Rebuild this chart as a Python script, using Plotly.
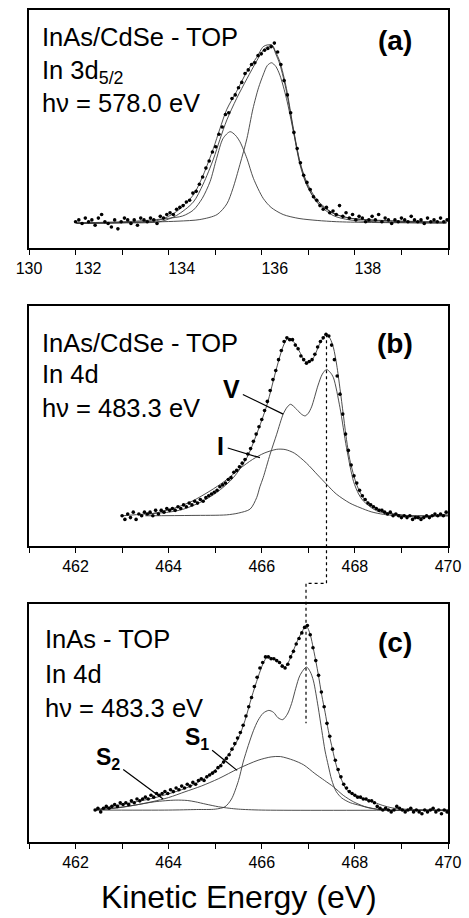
import plotly.graph_objects as go

# ---------------- data ----------------
# Panel (a): In 3d5/2, InAs/CdSe - TOP
A_DOTS_X = [131.00,131.07,131.14,131.21,131.28,131.35,131.42,131.49,131.56,131.63,131.70,131.77,131.84,131.91,131.98,
            132.05,132.12,132.19,132.26,132.33,132.40,132.47,132.54,132.61,132.68,132.75,132.82,132.89,132.96,133.03,
            133.10,133.17,133.24,133.31,133.38,133.45,133.52,133.59,133.66,133.73,133.80,133.87,133.94,134.01,134.08,
            134.15,134.22,134.29,134.36,134.43,134.50,134.57,134.64,134.71,134.78,134.85,134.92,134.99,135.06,135.13,
            135.20,135.27,135.34,135.41,135.48,135.55,135.62,135.69,135.76,135.83,135.90,135.97,136.04,136.11,136.18,
            136.25,136.32,136.39,136.46,136.53,136.60,136.67,136.74,136.81,136.88,136.95,137.02,137.09,137.16,137.23,
            137.30,137.37,137.44,137.51,137.58,137.65,137.72,137.79,137.86,137.93,138.00,138.07,138.14,138.21,138.28,
            138.35,138.42,138.49,138.56,138.63,138.70,138.77,138.84,138.91,138.98]
A_DOTS_Y = [0.01,0.02,0.00,0.03,0.01,0.02,-0.01,0.03,0.05,0.01,0.00,-0.02,0.02,-0.03,0.01,
            0.03,0.02,0.00,0.02,-0.01,0.03,0.02,0.01,0.03,0.02,0.00,0.04,0.03,0.05,0.06,
            0.05,0.08,0.09,0.10,0.12,0.13,0.17,0.18,0.22,0.26,0.31,0.35,0.40,0.43,0.50,
            0.54,0.61,0.62,0.70,0.72,0.76,0.79,0.84,0.86,0.89,0.90,0.94,0.95,0.97,0.98,
            0.99,1.01,0.96,0.89,0.80,0.72,0.62,0.51,0.42,0.34,0.27,0.23,0.19,0.15,0.13,
            0.10,0.08,0.09,0.06,0.07,0.05,0.10,0.04,0.06,0.03,0.05,0.02,0.04,0.03,0.01,
            0.02,0.04,0.02,0.05,0.01,0.03,0.02,0.00,0.02,0.01,0.03,0.02,0.01,0.04,0.02,
            0.01,0.02,0.00,0.03,0.01,0.02,0.01,0.03,0.01,0.02]
A_FIT_X = [131.02,132.0,132.81,133.17,133.53,133.74,133.96,134.10,134.25,134.46,134.68,134.89,135.03,135.12,135.22,
           135.30,135.39,135.53,135.68,135.82,135.96,136.18,136.53,136.89,137.6,138.97]
A_FIT_Y = [0.00,0.005,0.02,0.067,0.16,0.27,0.42,0.53,0.64,0.74,0.85,0.93,0.99,1.0,1.0,
           0.96,0.905,0.756,0.53,0.346,0.235,0.134,0.058,0.03,0.015,0.007]
A_FIT2_Y = [0.00,0.003,0.01,0.045,0.12,0.22,0.36,0.47,0.58,0.70,0.81,0.91,0.97,0.99,0.995,
            0.95,0.89,0.74,0.52,0.34,0.225,0.12,0.045,0.02,0.008,0.003]
A_P1_X = [131.02,131.52,132.3,132.96,133.3,133.53,133.72,133.89,134.03,134.17,134.32,134.43,134.53,134.68,134.82,
          135.03,135.2,135.46,135.8,136.19,136.6,137.26,138.96]
A_P1_Y = [0.004,0.006,0.013,0.028,0.042,0.075,0.14,0.235,0.365,0.477,0.514,0.495,0.458,0.365,0.253,
          0.141,0.09,0.05,0.028,0.017,0.01,0.006,0.002]
A_P2_X = [131.02,132.23,133.2,133.67,134.04,134.25,134.38,134.53,134.68,134.81,134.93,135.03,135.12,135.21,135.30,
          135.39,135.53,135.68,135.82,135.96,136.18,136.53,136.89,137.6,138.97]
A_P2_Y = [0.003,0.006,0.013,0.022,0.05,0.11,0.196,0.33,0.475,0.642,0.76,0.832,0.885,0.9,0.88,
          0.83,0.70,0.514,0.33,0.218,0.123,0.058,0.03,0.017,0.007]

# Panel (b): In 4d, InAs/CdSe - TOP
B_DOTS_X = [463.00,463.06,463.12,463.18,463.24,463.30,463.36,463.42,463.48,463.54,463.60,463.66,463.72,463.78,463.84,
            463.90,463.96,464.02,464.08,464.14,464.20,464.26,464.32,464.38,464.44,464.50,464.56,464.62,464.68,464.74,
            464.80,464.86,464.92,464.98,465.04,465.10,465.16,465.22,465.28,465.34,465.40,465.46,465.52,465.58,465.64,
            465.70,465.76,465.82,465.88,465.94,466.00,466.06,466.12,466.18,466.24,466.30,466.36,466.42,466.48,466.54,
            466.60,466.66,466.72,466.78,466.84,466.90,466.96,467.02,467.08,467.14,467.20,467.26,467.32,467.38,467.44,
            467.50,467.56,467.62,467.68,467.74,467.80,467.86,467.92,467.98,468.04,468.10,468.16,468.22,468.28,468.34,
            468.40,468.46,468.52,468.58,468.64,468.70,468.76,468.82,468.88,468.94,469.00,469.06,469.12,469.18,469.24,
            469.30,469.36,469.42,469.48,469.54,469.60,469.66,469.72,469.78,469.84,469.90,469.96]
B_DOTS_Y = [0.00,-0.02,0.01,-0.01,0.02,-0.02,0.01,0.00,0.02,0.01,0.02,0.00,0.03,0.01,0.03,
            0.02,0.04,0.03,0.04,0.03,0.05,0.04,0.06,0.05,0.07,0.06,0.08,0.07,0.09,0.08,
            0.10,0.11,0.12,0.13,0.14,0.16,0.17,0.18,0.20,0.21,0.24,0.25,0.27,0.29,0.31,
            0.34,0.37,0.41,0.45,0.49,0.53,0.58,0.63,0.69,0.75,0.80,0.86,0.91,0.96,0.98,
            0.97,0.97,0.94,0.92,0.88,0.86,0.84,0.85,0.86,0.89,0.93,0.96,0.98,1.00,0.99,
            0.94,0.86,0.77,0.67,0.56,0.45,0.36,0.28,0.22,0.18,0.14,0.11,0.09,0.07,0.06,
            0.05,0.04,0.03,0.03,0.02,0.01,0.02,0.00,0.01,0.00,-0.01,0.00,-0.01,0.00,-0.02,
            -0.01,-0.01,-0.02,-0.01,0.00,-0.01,0.00,0.01,0.00,0.01,0.00,0.02]
B_FIT_X = [463.0,463.5,464.0,464.3,464.67,465.03,465.39,465.68,465.89,466.11,466.32,466.46,466.55,466.63,466.71,
           466.82,466.93,467.02,467.11,467.25,467.39,467.47,467.54,467.61,467.68,467.75,467.82,467.89,468.04,468.18,
           468.33,468.5,468.68,469.0,469.4,469.7,470.0]
B_FIT_Y = [0.00,0.01,0.02,0.035,0.073,0.128,0.21,0.32,0.45,0.61,0.815,0.934,0.975,0.97,0.95,
           0.90,0.85,0.85,0.87,0.95,1.0,0.975,0.925,0.83,0.70,0.56,0.42,0.31,0.17,0.10,
           0.064,0.035,0.018,0.005,-0.01,0.0,0.01]
B_V_X = [463.5,464.5,465.24,465.5,465.75,465.89,465.96,466.03,466.18,466.32,466.46,466.55,466.62,466.75,466.85,
         466.93,467.0,467.07,467.21,467.3,467.39,467.47,467.54,467.68,467.82,467.97,468.08,468.18,468.47,468.97,470.0]
B_V_Y = [0.0,0.002,0.005,0.015,0.037,0.10,0.16,0.21,0.34,0.449,0.56,0.60,0.614,0.586,0.56,
         0.55,0.565,0.60,0.72,0.78,0.806,0.79,0.76,0.595,0.375,0.19,0.12,0.082,0.027,0.004,0.0]
B_I_X = [463.5,463.8,464.17,464.5,464.89,465.2,465.53,465.8,466.05,466.32,466.5,466.7,466.96,467.2,467.39,
         467.6,467.89,468.11,468.35,468.61,468.9,470.0]
B_I_Y = [0.005,0.02,0.046,0.08,0.137,0.19,0.26,0.31,0.345,0.366,0.365,0.345,0.29,0.225,0.174,
         0.12,0.07,0.045,0.022,0.008,0.0,0.0]

# Panel (c): In 4d, InAs - TOP
C_DOTS_X = [462.42,462.48,462.54,462.60,462.66,462.72,462.78,462.84,462.90,462.96,463.02,463.08,463.14,463.20,463.26,
            463.32,463.38,463.44,463.50,463.56,463.62,463.68,463.74,463.80,463.86,463.92,463.98,464.04,464.10,464.16,
            464.22,464.28,464.34,464.40,464.46,464.52,464.58,464.64,464.70,464.76,464.82,464.88,464.94,465.00,465.06,
            465.12,465.18,465.24,465.30,465.36,465.42,465.48,465.54,465.60,465.66,465.72,465.78,465.84,465.90,465.96,
            466.02,466.08,466.14,466.20,466.26,466.32,466.38,466.44,466.50,466.56,466.62,466.68,466.74,466.80,466.86,
            466.92,466.98,467.04,467.10,467.16,467.22,467.28,467.34,467.40,467.46,467.52,467.58,467.64,467.70,467.76,
            467.82,467.88,467.94,468.00,468.06,468.12,468.18,468.24,468.30,468.36,468.42,468.48,468.54,468.60,468.66,
            468.72,468.78,468.84,468.90,468.96,469.02,469.08,469.14,469.20,469.26,469.32,469.38,469.44,469.50,469.56,
            469.62,469.68,469.74,469.80,469.86,469.92,469.98]
C_DOTS_Y = [0.00,0.01,-0.01,0.01,0.02,0.01,0.02,0.03,0.02,0.04,0.03,0.04,0.03,0.05,0.04,
            0.06,0.05,0.06,0.07,0.06,0.08,0.07,0.09,0.08,0.09,0.10,0.09,0.11,0.10,0.12,
            0.11,0.13,0.12,0.14,0.13,0.15,0.14,0.16,0.17,0.16,0.18,0.19,0.20,0.21,0.23,
            0.24,0.26,0.28,0.30,0.33,0.36,0.39,0.42,0.46,0.51,0.56,0.61,0.67,0.72,0.77,
            0.80,0.83,0.83,0.82,0.82,0.81,0.80,0.78,0.77,0.79,0.83,0.86,0.90,0.93,0.96,
            0.99,1.00,0.95,0.88,0.81,0.73,0.64,0.56,0.47,0.40,0.33,0.27,0.22,0.18,0.14,
            0.12,0.10,0.09,0.08,0.07,0.07,0.06,0.06,0.05,0.05,0.04,0.02,0.01,0.00,0.01,
            0.00,-0.01,0.00,0.02,0.01,0.00,-0.01,0.00,0.01,-0.01,0.00,-0.01,-0.02,0.00,-0.01,
            0.00,0.01,-0.01,0.00,-0.02,0.00,-0.01]
C_FIT_X = [462.42,462.92,463.3,463.64,464.0,464.35,464.71,465.07,465.35,465.5,465.64,465.78,465.92,466.03,466.12,
           466.22,466.32,466.42,466.50,466.59,466.68,466.77,466.86,466.95,467.03,467.12,467.21,467.29,467.36,467.43,
           467.5,467.61,467.72,467.82,467.98,468.15,468.3,468.43,468.6,468.8,469.0,469.5,470.0]
C_FIT_Y = [0.00,0.027,0.045,0.063,0.088,0.117,0.162,0.234,0.324,0.39,0.486,0.61,0.72,0.795,0.83,
           0.825,0.81,0.79,0.775,0.81,0.865,0.92,0.964,1.0,0.96,0.86,0.74,0.62,0.53,0.43,
           0.35,0.234,0.16,0.11,0.08,0.063,0.05,0.04,0.025,0.012,0.006,0.0,-0.004]
C_BULK_X = [462.42,464.0,464.6,465.0,465.21,465.35,465.5,465.6,465.71,465.82,465.92,466.03,466.15,466.25,466.35,
            466.45,466.55,466.64,466.73,466.82,466.96,467.04,467.11,467.21,467.29,467.36,467.43,467.5,467.6,467.72,
            467.9,468.11,468.3,468.47,468.8,470.0]
C_BULK_Y = [0.0,0.0,0.003,0.005,0.018,0.06,0.16,0.26,0.35,0.43,0.486,0.525,0.54,0.53,0.50,
            0.49,0.52,0.577,0.66,0.73,0.775,0.75,0.70,0.56,0.43,0.32,0.24,0.165,0.10,0.065,
            0.04,0.025,0.012,0.005,0.0,0.0]
C_S1_X = [462.42,463.0,463.64,464.0,464.35,464.7,465.07,465.5,465.92,466.2,466.4,466.68,466.9,467.14,467.35,
          467.54,467.75,467.97,468.2,468.4,468.6,470.0]
C_S1_Y = [0.0,0.015,0.045,0.068,0.099,0.13,0.17,0.225,0.27,0.288,0.29,0.27,0.245,0.198,0.16,
          0.126,0.08,0.045,0.02,0.008,0.0,0.0]
C_S2_X = [462.42,462.8,463.28,463.7,464.14,464.4,464.57,464.8,465.07,465.3,465.5,466.0,470.0]
C_S2_Y = [0.0,0.01,0.027,0.045,0.054,0.052,0.045,0.032,0.018,0.01,0.005,0.0,0.0]

# ticks: marks every 1 eV, labels as printed
A_TICK_MARKS = list(range(130, 140))
A_TICKVALS = [130, 131.27, 133.28, 135.28, 137.28]
A_TICKTEXT = ["130", "132", "134", "136", "138"]
BC_TICK_MARKS = list(range(461, 471))
BC_TICKTEXT = [str(v) if v % 2 == 0 else "" for v in BC_TICK_MARKS]

# ---------------- layout constants ----------------
W, H = 469, 918
ML, MR, MT, MB = 29, 21, 8, 76
PW, PH = W - ML - MR, H - MT - MB
FONT = "Liberation Sans, Arial, sans-serif"

def px_x(px):
    return (px - ML) / PW

def px_y(py):
    return (H - MB - py) / PH

DOM_A = [px_y(247), 1.0]
DOM_B = [px_y(545), px_y(305)]
DOM_C = [0.0, px_y(603)]
RNG_A = [-0.1397, 1.1955]
RNG_B = [-0.1648, 1.1538]
RNG_C = [-0.173, 1.119]

LINE_C = "#3a3a3a"
LW = 0.9

fig = go.Figure()

def add_panel(xa, ya, dots_x, dots_y, lines):
    for lx, ly in lines:
        fig.add_trace(go.Scatter(x=lx, y=ly, mode="lines", xaxis=xa, yaxis=ya,
                                 line=dict(color=LINE_C, width=LW, shape="spline", smoothing=0.8),
                                 showlegend=False, hoverinfo="skip"))
    fig.add_trace(go.Scatter(x=dots_x, y=dots_y, mode="markers", xaxis=xa, yaxis=ya,
                             marker=dict(color="black", size=3.6),
                             showlegend=False))

add_panel("x", "y", A_DOTS_X, A_DOTS_Y,
          [(A_FIT_X, A_FIT_Y), (A_FIT_X, A_FIT2_Y), (A_P1_X, A_P1_Y), (A_P2_X, A_P2_Y)])
add_panel("x2", "y2", B_DOTS_X, B_DOTS_Y,
          [(B_FIT_X, B_FIT_Y), (B_V_X, B_V_Y), (B_I_X, B_I_Y)])
add_panel("x3", "y3", C_DOTS_X, C_DOTS_Y,
          [(C_FIT_X, C_FIT_Y), (C_BULK_X, C_BULK_Y), (C_S1_X, C_S1_Y), (C_S2_X, C_S2_Y)])
# empty trace so the label-only axis of panel (a) is created
fig.add_trace(go.Scatter(x=[], y=[], xaxis="x4", yaxis="y", showlegend=False))

axis_line = dict(showline=True, mirror=True, linecolor="black", linewidth=1.6,
                 showgrid=False, zeroline=False)
TICKFONT = dict(family=FONT, size=16, color="black")

def xaxis_cfg(anchor, rng, tickvals, ticktext, show_labels=True):
    return dict(domain=[0, 1], anchor=anchor, range=rng, tickmode="array",
                tickvals=tickvals, ticktext=ticktext, ticks="outside", ticklen=5,
                tickwidth=1.2, tickcolor="black", showticklabels=show_labels,
                tickfont=TICKFONT, **axis_line)

def yaxis_cfg(anchor, dom, rng):
    return dict(domain=dom, anchor=anchor, range=rng, showticklabels=False, ticks="",
                **axis_line)

# dotted guide connecting the main peaks of (b) and (c)
def to_paper(v, rng, dom):
    return dom[0] + (v - rng[0]) / (rng[1] - rng[0]) * (dom[1] - dom[0])

ib = B_FIT_Y.index(max(B_FIT_Y))
ic = C_FIT_Y.index(max(C_FIT_Y))
xb_peak, yb_peak = B_FIT_X[ib], B_FIT_Y[ib]
xc_peak = C_FIT_X[ic]
C_GUIDE_END = 0.47
y_top = to_paper(yb_peak, RNG_B, DOM_B)
y_gap = DOM_C[1] + 0.35 * (DOM_B[0] - DOM_C[1])
y_end = to_paper(C_GUIDE_END, RNG_C, DOM_C)
guide_path = (f"M {xb_peak},{y_top} L {xb_peak},{y_gap} L {xc_peak},{y_gap} L {xc_peak},{y_end}")

shapes = [dict(type="path", xref="x3", yref="paper", path=guide_path,
               line=dict(color="black", width=1.2, dash="dot"))]

def txt(text, px, py, size=25.5, bold=False, xanchor="left"):
    return dict(text=f"<b>{text}</b>" if bold else text, x=px_x(px), y=px_y(py),
                xref="paper", yref="paper", xanchor=xanchor, yanchor="middle",
                showarrow=False, font=dict(family=FONT, size=size, color="black"))

annotations = [
    txt("InAs/CdSe - TOP", 40, 35),
    txt("In 3d<sub>5/2</sub>", 40, 70),
    txt("hν = 578.0 eV", 40, 101),
    txt("(a)", 395, 39, size=28, bold=True, xanchor="center"),
    txt("InAs/CdSe - TOP", 40, 342),
    txt("In 4d", 40, 373),
    txt("hν = 483.3 eV", 40, 407),
    txt("(b)", 395, 342, size=28, bold=True, xanchor="center"),
    txt("InAs - TOP", 43, 639),
    txt("In 4d", 43, 674),
    txt("hν = 483.3 eV", 43, 708),
    txt("(c)", 395, 642, size=28, bold=True, xanchor="center"),
    dict(text="Kinetic Energy (eV)", x=0.5, y=px_y(897), xref="paper", yref="paper",
         xanchor="center", yanchor="middle", showarrow=False,
         font=dict(family=FONT, size=32, color="black")),
]

def pointer(text, tx, ty, hx, hy, xa, ya, size):
    return dict(text=text, x=hx, y=hy, ax=tx, ay=ty, xref=xa, yref=ya, axref=xa, ayref=ya,
                showarrow=True, arrowhead=0, arrowwidth=1.2, arrowcolor="black",
                standoff=0, startstandoff=2,
                font=dict(family=FONT, size=size, color="black"))

annotations += [
    pointer("<b>V</b>", 465.34, 0.70, 466.46, 0.56, "x2", "y2", 25),
    pointer("<b>I</b>", 465.12, 0.385, 465.96, 0.32, "x2", "y2", 25),
    pointer("<b>S</b><sub><b>1</b></sub>", 464.61, 0.39, 465.47, 0.215, "x3", "y3", 23),
    pointer("<b>S</b><sub><b>2</b></sub>", 462.70, 0.28, 463.88, 0.06, "x3", "y3", 23),
]

fig.update_layout(
    width=W, height=H,
    margin=dict(l=ML, r=MR, t=MT, b=MB, pad=0),
    paper_bgcolor="white", plot_bgcolor="white",
    xaxis=xaxis_cfg("y", [130, 139], A_TICK_MARKS, [""] * len(A_TICK_MARKS), show_labels=False),
    xaxis4=dict(overlaying="x", anchor="y", side="bottom", range=[130, 139],
                tickmode="array", tickvals=A_TICKVALS, ticktext=A_TICKTEXT,
                ticks="outside", ticklen=5, tickcolor="rgba(0,0,0,0)",
                showline=False, showgrid=False, zeroline=False, tickfont=TICKFONT),
    xaxis2=xaxis_cfg("y2", [461, 470], BC_TICK_MARKS, BC_TICKTEXT),
    xaxis3=xaxis_cfg("y3", [461, 470], BC_TICK_MARKS, BC_TICKTEXT),
    yaxis=yaxis_cfg("x", DOM_A, RNG_A),
    yaxis2=yaxis_cfg("x2", DOM_B, RNG_B),
    yaxis3=yaxis_cfg("x3", DOM_C, RNG_C),
    shapes=shapes,
    annotations=annotations,
    showlegend=False,
)

fig.write_html("out.html")
